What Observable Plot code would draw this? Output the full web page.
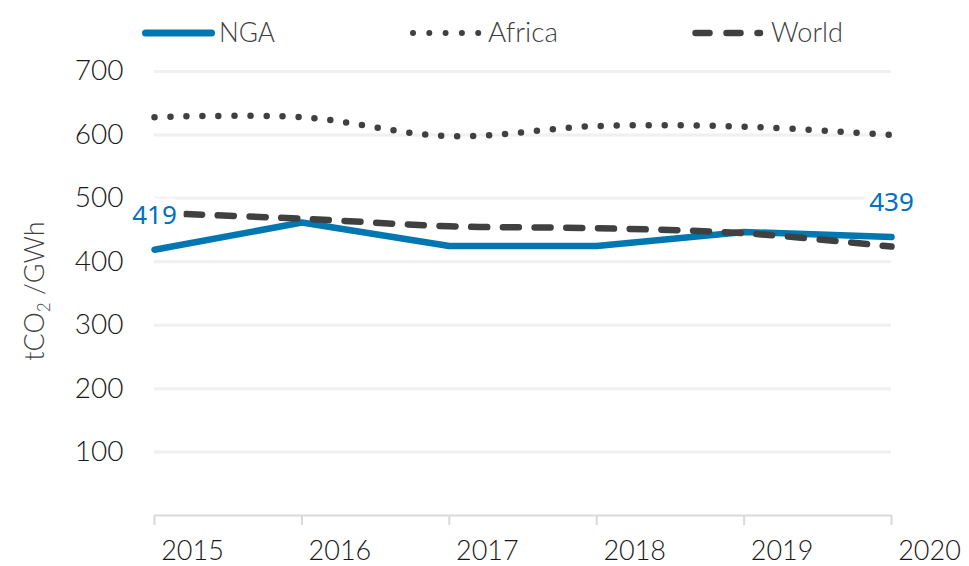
<!DOCTYPE html>
<html>
<head>
<meta charset="utf-8">
<script src="https://cdn.jsdelivr.net/npm/d3@7"></script>
<script src="https://cdn.jsdelivr.net/npm/@observablehq/plot@0.6"></script>
<style>
  html, body { margin: 0; padding: 0; background: #fff; }
  #wrap { position: relative; width: 969px; height: 566px; overflow: hidden; }
  #legend { position: absolute; left: 0; top: 0; }
  #chart { position: absolute; left: 0; top: 0; }
</style>
</head>
<body>
<div id="wrap">
  <div id="chart"></div>
  <svg id="legend" width="969" height="60"></svg>
</div>
<script>
// ---- data ----
const years = [2015, 2016, 2017, 2018, 2019, 2020];
const nga = [419, 462, 425, 425, 447, 439];
const africa = [628, 628, 598, 614, 613, 600];
const world = [477, 468, 456, 453, 445, 424];
const yTicks = [100, 200, 300, 400, 500, 600, 700];
const seriesNames = ["NGA", "Africa", "World"];
const labelIdx = [0, 5];

const rows = years.map((yr, i) => ({ year: yr, nga: nga[i], africa: africa[i], world: world[i] }));
const labels = labelIdx.map(i => ({ year: years[i], value: nga[i] }));

const BLUE = "#0077B0";
const LABEL_BLUE = "#0070C0";
const DARK = "#404040";
const tickFont = "Lato, 'Noto Sans', sans-serif";
const narrowFont = "'Liberation Sans Narrow', 'Arial Narrow', 'Liberation Sans', sans-serif";

const chart = Plot.plot({
  width: 969,
  height: 566,
  marginLeft: 154,
  marginRight: 78,
  marginTop: 71,
  marginBottom: 51,
  style: { fontFamily: tickFont, background: "transparent", overflow: "visible" },
  x: { type: "linear", domain: [2015, 2020] },
  y: { domain: [0, 700] },
  marks: [
    Plot.ruleY(yTicks, { stroke: "#f0f0f0", strokeWidth: 3 }),
    Plot.ruleY([0], { stroke: "#d9d9d9", strokeWidth: 2 }),
    Plot.axisX({ ticks: years, tickSize: 10, stroke: "#d9d9d9", strokeWidth: 2, text: null, label: null, strokeOpacity: 1 }),
    Plot.axisX({ ticks: years, tickSize: 0, tickPadding: 25, dx: 38, tickFormat: d => String(d),
      fontSize: 27, fontWeight: 300, fill: "#1a1a1a", label: null }),
    Plot.axisY({ ticks: yTicks, tickSize: 0, tickPadding: 31, fontSize: 28, fontWeight: 300,
      fill: "#1a1a1a", label: null }),
    Plot.line(rows, { x: "year", y: "nga", stroke: BLUE, strokeWidth: 6.5, strokeLinejoin: "round" }),
    Plot.line(rows, { x: "year", y: "world", stroke: DARK, strokeWidth: 6.5, curve: "catmull-rom",
      strokeDasharray: "16 15.7", strokeLinecap: "round" }),
    Plot.line(rows, { x: "year", y: "africa", stroke: DARK, strokeWidth: 6.5, curve: "catmull-rom",
      strokeDasharray: "0 16", strokeLinecap: "round" }),
    Plot.text(labels, { x: "year", y: "value", text: d => String(d.value), dy: -34,
      fill: LABEL_BLUE, stroke: "white", strokeWidth: 16, fontSize: 26,
      fontFamily: "'Noto Sans', sans-serif" })
  ]
});
document.getElementById("chart").appendChild(chart);

// y-axis title with subscript
const svg = d3.select(chart);
const t = svg.append("text")
  .attr("transform", "translate(44,291) rotate(-90)")
  .attr("text-anchor", "middle")
  .attr("font-family", tickFont)
  .attr("font-weight", 300)
  .attr("font-size", 27)
  .attr("fill", "#404040");
t.append("tspan").text("tCO");
t.append("tspan").attr("font-size", 17).attr("dy", 6).text("2");
t.append("tspan").attr("dy", -6).text(" /GWh");

// legend
const lg = d3.select("#legend");
const items = [
  { name: seriesNames[0], x1: 145.5, x2: 211.5, stroke: BLUE, w: 7, dash: null, tx: 219, tw: 56 },
  { name: seriesNames[1], x1: 413, x2: 478.5, stroke: DARK, w: 6, dash: "0 16.3", tx: 488, tw: 70 },
  { name: seriesNames[2], x1: 695.5, x2: 760, stroke: DARK, w: 6.5, dash: "14 17", tx: 771, tw: 72 }
];
items.forEach(it => {
  const l = lg.append("line")
    .attr("x1", it.x1).attr("x2", it.x2).attr("y1", 33).attr("y2", 33)
    .attr("stroke", it.stroke).attr("stroke-width", it.w).attr("stroke-linecap", "round");
  if (it.dash) l.attr("stroke-dasharray", it.dash);
  lg.append("text").attr("x", it.tx).attr("y", 42)
    .attr("font-family", tickFont).attr("font-weight", 300).attr("font-size", 28)
    .attr("textLength", it.tw).attr("lengthAdjust", "spacingAndGlyphs")
    .attr("fill", DARK).text(it.name);
});
</script>
</body>
</html>
